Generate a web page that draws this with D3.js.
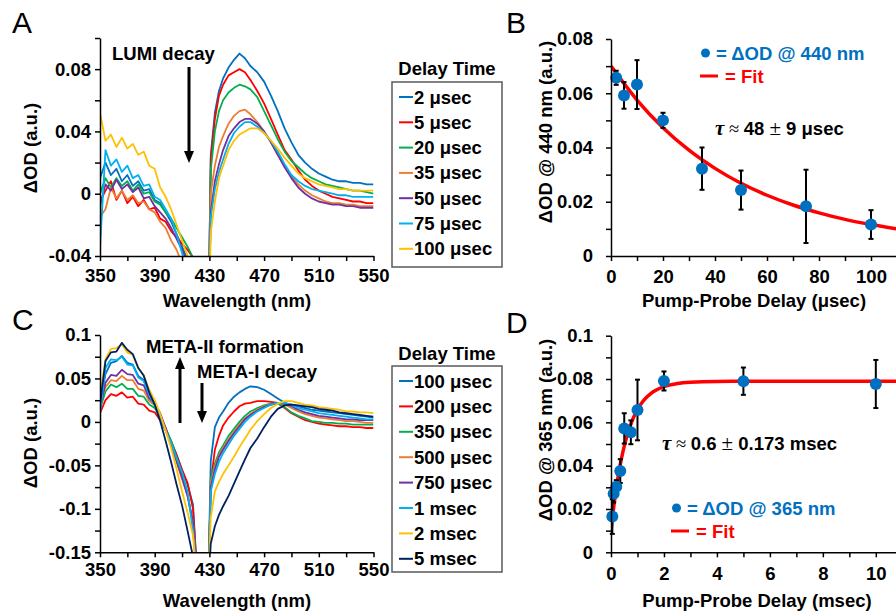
<!DOCTYPE html>
<html>
<head>
<meta charset="utf-8">
<script src="https://cdn.jsdelivr.net/npm/d3@7/dist/d3.min.js"></script>
<style>
  html, body { margin: 0; padding: 0; background: #fff; }
</style>
</head>
<body>
<div id="chart"></div>
<script>
// ---------- data ----------
const wavelengths = [350,354,358,362,366,370,374,378,382,386,390,394,398,402,406,410,414,418,422,
  429,431,434,437,440,444,448,452,456,460,465,470,475,480,485,490,495,500,505,510,515,520,525,530,535,540,545,550];

// panel A: LUMI decay spectra
const aLabels = ["2 μsec","5 μsec","20 μsec","35 μsec","50 μsec","75 μsec","100 μsec"];
const aColors = ["#0070C0","#FF0000","#00B050","#ED7D31","#7030A0","#00B0F0","#FFC000"];
const a2us = [0.010,0.020,0.012,0.016,0.008,0.012,0.005,0.008,0.002,0.003,-0.004,-0.006,-0.012,-0.018,-0.026,-0.034,-0.042,-0.055,-0.080,
  -0.100,0.025,0.052,0.066,0.074,0.081,0.086,0.090,0.087,0.082,0.078,0.072,0.063,0.053,0.042,0.033,0.025,0.020,0.016,0.013,0.011,0.009,0.008,0.008,0.007,0.007,0.006,0.006];
const a5us = [-0.005,0.002,0.008,-0.004,0.002,-0.006,-0.002,-0.008,-0.004,-0.010,-0.009,-0.016,-0.018,-0.024,-0.028,-0.032,-0.036,-0.041,-0.080,
  -0.100,0.022,0.048,0.063,0.070,0.076,0.078,0.080,0.078,0.073,0.066,0.058,0.048,0.038,0.028,0.022,0.015,0.009,0.005,0.002,0.000,-0.002,-0.003,-0.004,-0.005,-0.005,-0.006,-0.006];
const a20us = [0.000,0.010,0.004,0.010,0.005,0.008,0.002,0.006,0.000,0.001,-0.005,-0.007,-0.012,-0.016,-0.022,-0.028,-0.034,-0.041,-0.080,
  -0.100,0.015,0.040,0.053,0.060,0.065,0.068,0.070,0.069,0.067,0.062,0.053,0.044,0.035,0.027,0.021,0.017,0.013,0.010,0.008,0.006,0.005,0.004,0.003,0.002,0.002,0.001,0.000];
const a35us = [-0.015,-0.010,0.004,-0.003,0.002,-0.004,-0.001,-0.006,-0.005,-0.010,-0.012,-0.018,-0.022,-0.030,-0.036,-0.045,-0.055,-0.065,-0.080,
  -0.100,0.000,0.018,0.030,0.037,0.045,0.050,0.053,0.054,0.051,0.046,0.040,0.033,0.025,0.018,0.011,0.006,0.002,-0.001,-0.003,-0.005,-0.006,-0.006,-0.007,-0.007,-0.008,-0.008,-0.008];
const a50us = [-0.008,0.006,0.002,0.009,0.003,0.006,0.001,0.004,-0.003,-0.002,-0.008,-0.012,-0.016,-0.022,-0.029,-0.036,-0.044,-0.055,-0.080,
  -0.100,-0.012,0.008,0.019,0.028,0.037,0.042,0.046,0.048,0.048,0.045,0.040,0.033,0.025,0.017,0.010,0.004,0.000,-0.003,-0.005,-0.006,-0.007,-0.007,-0.008,-0.008,-0.009,-0.009,-0.009];
const a75us = [-0.035,0.028,0.018,0.022,0.014,0.018,0.010,0.012,0.005,0.006,-0.002,-0.004,-0.010,-0.016,-0.026,-0.038,-0.050,-0.065,-0.080,
  -0.100,-0.015,0.003,0.014,0.022,0.032,0.039,0.043,0.046,0.046,0.043,0.039,0.034,0.027,0.019,0.012,0.008,0.005,0.003,0.002,0.001,0.000,-0.001,-0.001,-0.002,-0.002,-0.002,-0.002];
const a100us = [0.052,0.034,0.038,0.030,0.036,0.029,0.032,0.025,0.027,0.018,0.016,0.004,-0.002,-0.010,-0.020,-0.030,-0.040,-0.055,-0.080,
  -0.100,-0.025,-0.005,0.010,0.018,0.028,0.034,0.038,0.040,0.042,0.042,0.039,0.034,0.029,0.023,0.018,0.013,0.010,0.008,0.006,0.005,0.004,0.003,0.003,0.002,0.002,0.002,0.002];

// panel C: META-I decay / META-II formation spectra
const cLabels = ["100 μsec","200 μsec","350 μsec","500 μsec","750 μsec","1 msec","2 msec","5 msec"];
const cColors = ["#0070C0","#FF0000","#00B050","#ED7D31","#7030A0","#00B0F0","#FFC000","#002060"];
const c100us = [0.020,0.055,0.068,0.070,0.076,0.068,0.066,0.053,0.048,0.032,0.021,0.005,-0.008,-0.022,-0.038,-0.055,-0.072,-0.095,-0.200,
  -0.200,-0.045,-0.006,0.005,0.012,0.022,0.029,0.034,0.038,0.041,0.040,0.037,0.032,0.027,0.022,0.020,0.018,0.016,0.014,0.013,0.012,0.011,0.010,0.009,0.008,0.007,0.006,0.005];
const c200us = [0.010,0.025,0.032,0.030,0.034,0.028,0.029,0.021,0.020,0.013,0.011,0.002,-0.010,-0.023,-0.038,-0.055,-0.070,-0.100,-0.200,
  -0.200,-0.070,-0.032,-0.016,-0.004,0.005,0.012,0.018,0.021,0.022,0.024,0.024,0.023,0.022,0.016,0.010,0.006,0.002,0.000,-0.002,-0.003,-0.004,-0.005,-0.005,-0.006,-0.006,-0.007,-0.007];
const c350us = [0.015,0.035,0.043,0.040,0.044,0.038,0.038,0.030,0.029,0.020,0.016,0.006,-0.007,-0.022,-0.041,-0.060,-0.083,-0.118,-0.200,
  -0.200,-0.065,-0.048,-0.035,-0.027,-0.016,-0.008,0.000,0.007,0.012,0.016,0.019,0.021,0.021,0.017,0.011,0.007,0.004,0.001,0.000,-0.001,-0.001,-0.002,-0.002,-0.003,-0.003,-0.003,-0.003];
const c500us = [0.020,0.040,0.048,0.047,0.053,0.048,0.048,0.038,0.036,0.024,0.019,0.008,-0.007,-0.026,-0.046,-0.066,-0.085,-0.115,-0.200,
  -0.200,-0.070,-0.052,-0.038,-0.030,-0.020,-0.011,-0.003,0.004,0.009,0.014,0.018,0.020,0.022,0.020,0.016,0.012,0.009,0.007,0.005,0.004,0.003,0.002,0.001,0.001,0.000,-0.001,-0.001];
const c750us = [0.015,0.045,0.054,0.053,0.060,0.055,0.054,0.044,0.042,0.027,0.021,0.010,-0.007,-0.026,-0.045,-0.064,-0.085,-0.115,-0.200,
  -0.200,-0.075,-0.055,-0.040,-0.032,-0.022,-0.013,-0.005,0.003,0.008,0.013,0.017,0.020,0.022,0.021,0.018,0.014,0.011,0.009,0.007,0.006,0.005,0.004,0.003,0.003,0.002,0.002,0.002];
const c1ms = [0.010,0.062,0.072,0.071,0.075,0.066,0.065,0.051,0.047,0.031,0.019,0.004,-0.010,-0.024,-0.042,-0.058,-0.080,-0.125,-0.200,
  -0.200,-0.080,-0.060,-0.046,-0.036,-0.026,-0.016,-0.008,0.000,0.006,0.012,0.016,0.020,0.022,0.022,0.019,0.016,0.014,0.012,0.010,0.009,0.008,0.007,0.006,0.005,0.004,0.003,0.003];
const c2ms = [0.030,0.072,0.084,0.085,0.089,0.080,0.077,0.062,0.054,0.037,0.025,0.009,-0.010,-0.030,-0.054,-0.080,-0.104,-0.130,-0.200,
  -0.200,-0.110,-0.080,-0.069,-0.060,-0.050,-0.040,-0.029,-0.019,-0.009,0.001,0.009,0.016,0.021,0.024,0.024,0.022,0.020,0.019,0.017,0.016,0.015,0.014,0.012,0.012,0.011,0.011,0.010];
const c5ms = [0.020,0.070,0.080,0.081,0.091,0.083,0.078,0.062,0.053,0.034,0.020,0.001,-0.022,-0.046,-0.072,-0.096,-0.125,-0.155,-0.200,
  -0.200,-0.140,-0.120,-0.107,-0.097,-0.085,-0.071,-0.057,-0.043,-0.030,-0.019,-0.006,0.006,0.015,0.019,0.020,0.019,0.018,0.017,0.015,0.014,0.013,0.011,0.010,0.009,0.008,0.007,0.006];

// panel B: kinetics at 440 nm
const bDelay = [2,5,10,20,35,50,75,100];
const bOD = [0.0657,0.0592,0.0632,0.0500,0.0322,0.0243,0.0183,0.0116];
const bErr = [0.0026,0.0049,0.0090,0.0028,0.0078,0.0072,0.0135,0.0053];
const bFitT = [0,10,20,30,40,50,60,70,80,90,100,110];
const bFitOD = [0.0700,0.0575,0.0473,0.0390,0.0323,0.0268,0.0224,0.0188,0.0159,0.0135,0.0116,0.0100];

// panel D: kinetics at 365 nm
const dDelay = [0.05,0.1,0.2,0.35,0.5,0.75,1,2,5,10];
const dOD = [0.0165,0.0270,0.0303,0.0375,0.0572,0.0554,0.0657,0.0791,0.0790,0.0777];
const dErr = [0.0080,0.0040,0.0030,0.0055,0.0070,0.0055,0.0140,0.0044,0.0063,0.0111];
const dFitT = [0,0.1,0.2,0.3,0.4,0.5,0.6,0.8,1.0,1.25,1.5,2,2.5,3,4,6,8,10.8];
const dFitOD = [0.0100,0.0206,0.0296,0.0372,0.0436,0.0490,0.0536,0.0608,0.0660,0.0704,0.0733,0.0765,0.0779,0.0785,0.0789,0.0790,0.0790,0.0790];

// ticks
const specXTicks = [350,370,390,410,430,450,470,490,510,530,550];
const specXLabels = [350,390,430,470,510,550];
const aYTicks = [-0.04,-0.02,0,0.02,0.04,0.06,0.08,0.1];
const aYLabels = [-0.04,0,0.04,0.08];
const cYTicks = [-0.15,-0.125,-0.1,-0.075,-0.05,-0.025,0,0.025,0.05,0.075,0.1];
const cYLabels = [-0.15,-0.1,-0.05,0,0.05,0.1];
const bXTicks = [0,10,20,30,40,50,60,70,80,90,100];
const bXLabels = [0,20,40,60,80,100];
const bYTicks = [0,0.01,0.02,0.03,0.04,0.05,0.06,0.07,0.08];
const bYLabels = [0,0.02,0.04,0.06,0.08];
const dXTicks = [0,1,2,3,4,5,6,7,8,9,10];
const dXLabels = [0,2,4,6,8,10];
const dYTicks = [0,0.01,0.02,0.03,0.04,0.05,0.06,0.07,0.08,0.09,0.1];
const dYLabels = [0,0.02,0.04,0.06,0.08,0.1];

// ---------- drawing ----------
const FONT = "'Liberation Sans', Arial, Helvetica, sans-serif";
const FS = 18.5;

const svg = d3.select("#chart").append("svg")
    .attr("width", 896)
    .attr("height", 612)
    .style("display", "block");
svg.append("rect").attr("width", 896).attr("height", 612).attr("fill", "#fff");
const defs = svg.append("defs");

const specX = d3.scaleLinear().domain([350, 550]).range([100, 373.5]);
const aY = d3.scaleLinear().domain([-0.04, 0.1]).range([256, 38]);
const cY = d3.scaleLinear().domain([-0.15, 0.1]).range([552.3, 335]);
const bX = d3.scaleLinear().domain([0, 110]).range([611, 897]);
const bY = d3.scaleLinear().domain([0, 0.08]).range([256, 39]);
const dX = d3.scaleLinear().domain([0, 10.8]).range([611, 897]);
const dY = d3.scaleLinear().domain([0, 0.1]).range([552.3, 335.7]);

function styleAxis(g) {
    g.attr("font-family", FONT).attr("font-size", FS).attr("font-weight", "bold");
    g.select(".domain").attr("stroke", "#000").attr("stroke-width", 1.5);
    g.selectAll(".tick line").attr("stroke", "#000").attr("stroke-width", 1.5);
    g.selectAll(".tick text").attr("fill", "#000");
}

function drawAxes(x, y, xt, xl, yt, yl, xPad, yPad) {
    const gx = svg.append("g")
        .attr("transform", "translate(0," + y.range()[0] + ")")
        .call(d3.axisBottom(x).tickValues(xt).tickSize(5).tickSizeOuter(0).tickPadding(xPad)
            .tickFormat(d => xl.includes(d) ? String(d) : ""));
    styleAxis(gx);
    const gy = svg.append("g")
        .attr("transform", "translate(" + x.range()[0] + ",0)")
        .call(d3.axisLeft(y).tickValues(yt).tickSize(5).tickSizeOuter(0).tickPadding(yPad)
            .tickFormat(d => yl.includes(d) ? String(d) : ""));
    styleAxis(gy);
}

function label(x, y, txt, opts) {
    opts = opts || {};
    const t = svg.append("text")
        .attr("x", x).attr("y", y)
        .attr("font-family", FONT)
        .attr("font-size", opts.size || FS)
        .attr("font-weight", opts.weight || "bold")
        .attr("fill", opts.color || "#000")
        .attr("text-anchor", opts.anchor || "start")
        .text(txt);
    if (opts.rotate) {
        t.attr("x", null).attr("y", null)
         .attr("transform", "translate(" + x + "," + y + ") rotate(-90)");
    }
    return t;
}

function clipRect(id, x0, y0, x1, y1) {
    defs.append("clipPath").attr("id", id).append("rect")
        .attr("x", x0).attr("y", y0).attr("width", x1 - x0).attr("height", y1 - y0);
}

function drawSpectra(series, colors, y, clipId) {
    const line = d3.line()
        .x((d, i) => specX(wavelengths[i]))
        .y(d => y(d));
    const g = svg.append("g").attr("clip-path", "url(#" + clipId + ")");
    series.forEach((s, i) => {
        g.append("path")
            .attr("d", line(s))
            .attr("fill", "none")
            .attr("stroke", colors[i])
            .attr("stroke-width", 1.8)
            .attr("stroke-linejoin", "round");
    });
}

function drawLegend(labels, colors, boxY, boxH, titleY, firstY, step) {
    label(447, titleY, "Delay Time", { anchor: "middle" });
    svg.append("rect")
        .attr("x", 392).attr("y", boxY).attr("width", 110).attr("height", boxH)
        .attr("fill", "none").attr("stroke", "#595959").attr("stroke-width", 1.5);
    labels.forEach((l, i) => {
        const cy = firstY + i * step;
        svg.append("line")
            .attr("x1", 399).attr("x2", 413).attr("y1", cy).attr("y2", cy)
            .attr("stroke", colors[i]).attr("stroke-width", 2);
        label(414, cy + 6.5, l);
    });
}

function arrow(x, yTail, yTip) {
    const dir = yTip > yTail ? 1 : -1;
    const headLen = 12, headW = 5;
    svg.append("line")
        .attr("x1", x).attr("x2", x)
        .attr("y1", yTail).attr("y2", yTip - dir * headLen)
        .attr("stroke", "#000").attr("stroke-width", 3);
    svg.append("path")
        .attr("d", d3.line()([[x - headW, yTip - dir * headLen], [x + headW, yTip - dir * headLen], [x, yTip]]) + "Z")
        .attr("fill", "#000");
}

function drawKinetics(x, y, t, od, err, fitT, fitOD, clipId) {
    const g = svg.append("g").attr("clip-path", "url(#" + clipId + ")");
    g.append("path")
        .attr("d", d3.line().x((d, i) => x(fitT[i])).y(d => y(d)).curve(d3.curveMonotoneX)(fitOD))
        .attr("fill", "none").attr("stroke", "#FF0000").attr("stroke-width", 3.5);
    t.forEach((tv, i) => {
        const x0 = x(tv), yl = y(od[i] - err[i]), yh = y(od[i] + err[i]);
        svg.append("line").attr("x1", x0).attr("x2", x0).attr("y1", yl).attr("y2", yh)
            .attr("stroke", "#000").attr("stroke-width", 2);
        [yl, yh].forEach(yy => svg.append("line")
            .attr("x1", x0 - 2.5).attr("x2", x0 + 2.5).attr("y1", yy).attr("y2", yy)
            .attr("stroke", "#000").attr("stroke-width", 2));
    });
    svg.append("g").selectAll("circle")
        .data(od).enter().append("circle")
        .attr("cx", (d, i) => x(t[i]))
        .attr("cy", d => y(d))
        .attr("r", 6)
        .attr("fill", "#0070C0");
}

function tauText(x, y, rest) {
    const t = svg.append("text").attr("x", x).attr("y", y)
        .attr("font-family", FONT).attr("font-size", FS).attr("font-weight", "bold").attr("fill", "#000");
    t.append("tspan").attr("font-family", "'Liberation Serif', 'Times New Roman', serif")
        .attr("font-style", "italic").attr("font-size", 21).text("τ");
    t.append("tspan").attr("font-family", "'Liberation Serif', serif").attr("font-weight", "normal").text(" ≈ ");
    t.append("tspan").text(rest[0] + " ");
    t.append("tspan").attr("font-family", "'Liberation Serif', serif").attr("font-weight", "normal")
        .attr("font-size", 21).text("±");
    t.append("tspan").text(" " + rest[1]);
}

function fitLegend(x, yDot, yFit, txt) {
    svg.append("circle").attr("cx", x + 4.5).attr("cy", yDot).attr("r", 4.5).attr("fill", "#0070C0");
    label(x + 15, yDot + 6.5, "= " + txt, { color: "#0070C0" });
    svg.append("line").attr("x1", x - 1).attr("x2", x + 17).attr("y1", yFit).attr("y2", yFit)
        .attr("stroke", "#FF0000").attr("stroke-width", 3);
    label(x + 24, yFit + 6.5, "= Fit", { color: "#FF0000" });
}

// ---- panel A ----
clipRect("clipA", 100, 38, 373.5, 256);
drawSpectra([a2us, a5us, a20us, a35us, a50us, a75us, a100us], aColors, aY, "clipA");
drawAxes(specX, aY, specXTicks, specXLabels, aYTicks, aYLabels, 8, 4);
label(12, 33, "A", { size: 30, weight: "normal" });
label(237, 307, "Wavelength (nm)", { anchor: "middle" });
label(37, 148, "ΔOD (a.u.)", { anchor: "middle", rotate: true });
label(112, 59.5, "LUMI decay");
arrow(189, 67, 163);
drawLegend(aLabels, aColors, 82, 185, 74.5, 97, 25.3);

// ---- panel B ----
clipRect("clipB", 611, 30, 896, 256);
drawKinetics(bX, bY, bDelay, bOD, bErr, bFitT, bFitOD, "clipB");
drawAxes(bX, bY, bXTicks, bXLabels, bYTicks, bYLabels, 9, 13);
label(506, 33, "B", { size: 30, weight: "normal" });
label(754, 307, "Pump-Probe Delay (μsec)", { anchor: "middle" });
label(552, 132, "ΔOD @ 440 nm (a.u.)", { anchor: "middle", rotate: true });
fitLegend(701, 53, 76, "ΔOD @ 440 nm");
tauText(715, 134.5, ["48", "9 μsec"]);

// ---- panel C ----
clipRect("clipC", 100, 330, 373.5, 552.3);
drawSpectra([c100us, c200us, c350us, c500us, c750us, c1ms, c2ms, c5ms], cColors, cY, "clipC");
drawAxes(specX, cY, specXTicks, specXLabels, cYTicks, cYLabels, 6, 4);
label(12, 330, "C", { size: 30, weight: "normal" });
label(237, 606.5, "Wavelength (nm)", { anchor: "middle" });
label(37, 443, "ΔOD (a.u.)", { anchor: "middle", rotate: true });
label(146, 352.5, "META-II formation");
label(197, 377.5, "META-I decay");
arrow(180, 423, 357);
arrow(202, 383, 423);
drawLegend(cLabels, cColors, 366, 206, 359.5, 381, 25.4);

// ---- panel D ----
clipRect("clipD", 611, 330, 896, 552.3);
drawKinetics(dX, dY, dDelay, dOD, dErr, dFitT, dFitOD, "clipD");
drawAxes(dX, dY, dXTicks, dXLabels, dYTicks, dYLabels, 10, 13);
label(506, 333, "D", { size: 30, weight: "normal" });
label(757, 606.5, "Pump-Probe Delay (msec)", { anchor: "middle" });
label(552, 430, "ΔOD @ 365 nm (a.u.)", { anchor: "middle", rotate: true });
fitLegend(672, 508, 531, "ΔOD @ 365 nm");
tauText(662, 449.5, ["0.6", "0.173 msec"]);
</script>
</body>
</html>
